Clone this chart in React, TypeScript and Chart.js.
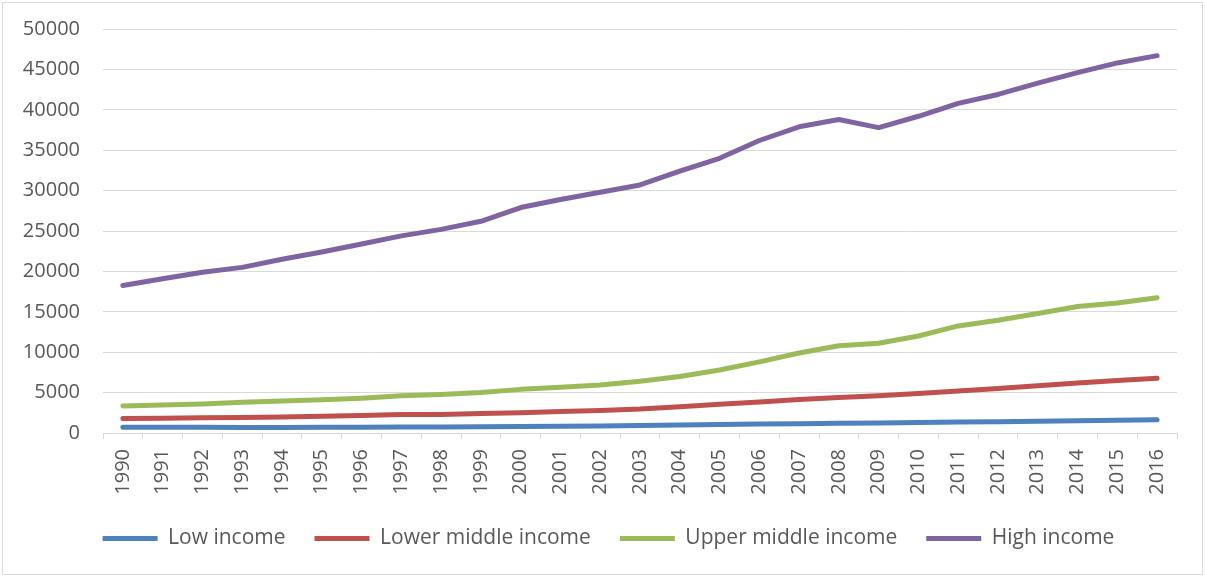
import React, { useEffect, useRef } from "react";
import { Chart, registerables } from "chart.js";

Chart.register(...registerables);

const years = [
  "1990","1991","1992","1993","1994","1995","1996","1997","1998","1999",
  "2000","2001","2002","2003","2004","2005","2006","2007","2008","2009",
  "2010","2011","2012","2013","2014","2015","2016",
];

const lowIncome = [
  720, 710, 700, 690, 690, 700, 720, 740, 750, 760,
  790, 820, 860, 920, 980, 1040, 1100, 1160, 1210, 1240,
  1300, 1350, 1400, 1460, 1520, 1580, 1640,
];

const lowerMiddleIncome = [
  1780, 1830, 1880, 1930, 1990, 2080, 2180, 2280, 2300, 2400,
  2520, 2660, 2780, 2960, 3250, 3550, 3850, 4150, 4400, 4600,
  4900, 5200, 5500, 5850, 6200, 6500, 6780,
];

const upperMiddleIncome = [
  3350, 3480, 3600, 3800, 3950, 4100, 4300, 4600, 4750, 5000,
  5400, 5650, 5950, 6400, 7000, 7800, 8800, 9900, 10800, 11100,
  12000, 13250, 13950, 14800, 15650, 16100, 16750,
];

const highIncome = [
  18250, 19100, 19900, 20500, 21500, 22400, 23400, 24400, 25200, 26200,
  27900, 28900, 29800, 30700, 32400, 34000, 36200, 37900, 38800, 37800,
  39200, 40800, 41900, 43300, 44600, 45800, 46700,
];

const seriesNames = ["Low income", "Lower middle income", "Upper middle income", "High income"];
const seriesColors = ["#4F81BD", "#C0504D", "#9BBB59", "#8064A2"];

const FONT = "'Open Sans', 'Noto Sans', sans-serif";
const TEXT = "#595959";
const GRID = "#d9d9d9";
const SHIFT = 6;
const CANVAS_H = 576 + SHIFT;

const borderPlugin = {
  id: "outerBorder",
  beforeDraw(chart: any) {
    const ctx = chart.ctx;
    ctx.save();
    ctx.fillStyle = "#ffffff";
    ctx.fillRect(0, 0, chart.width, chart.height);
    ctx.strokeStyle = GRID;
    ctx.lineWidth = 1;
    ctx.strokeRect(2.5, 2.5 + SHIFT, chart.width - 5, 572);
    ctx.restore();
  },
  afterLayout(chart: any) {
    const lg = chart.legend;
    if (lg) {
      lg.left += 10;
      lg.right += 10;
    }
  },
};

export default function App() {
  const ref = useRef<HTMLCanvasElement | null>(null);

  useEffect(() => {
    document.body.style.margin = "0";
    document.body.style.overflow = "hidden";
    const canvas = ref.current;
    if (!canvas) return;
    const allData = [lowIncome, lowerMiddleIncome, upperMiddleIncome, highIncome];
    const chart = new Chart(canvas, {
      type: "line",
      data: {
        labels: years,
        datasets: allData.map((d, i) => ({
          label: seriesNames[i],
          data: d,
          borderColor: seriesColors[i],
          backgroundColor: seriesColors[i],
          borderWidth: 5,
          borderCapStyle: "round" as const,
          borderJoinStyle: "round" as const,
          pointRadius: 0,
          pointHoverRadius: 0,
          tension: 0,
          fill: false,
        })),
      },
      options: {
        animation: false,
        responsive: false,
        maintainAspectRatio: false,
        layout: { padding: { left: 20, right: 28, top: 10, bottom: 17 } },
        plugins: {
          tooltip: { enabled: false },
          legend: {
            position: "bottom",
            labels: {
              usePointStyle: true,
              pointStyle: "line",
              pointStyleWidth: 55,
              boxHeight: 21,
              padding: 29,
              color: TEXT,
              font: { family: FONT, size: 21 },
            },
          },
        },
        scales: {
          x: {
            offset: true,
            grid: {
              offset: true,
              drawOnChartArea: false,
              drawTicks: true,
              tickLength: 6,
              color: GRID,
            },
            border: { display: true, color: GRID },
            ticks: {
              color: TEXT,
              font: { family: FONT, size: 20 },
              minRotation: 90,
              maxRotation: 90,
              autoSkip: false,
              padding: 10,
            },
            afterFit: (scale: any) => {
              scale.height = 66;
            },
          },
          y: {
            min: 0,
            max: 50000,
            grid: { color: GRID, drawTicks: false },
            border: { display: false },
            ticks: {
              stepSize: 5000,
              color: TEXT,
              padding: 23,
              font: { family: FONT, size: 20 },
              callback: (v: any) => String(v),
            },
            afterFit: (scale: any) => {
              scale.width = 83;
            },
          },
        },
      },
      plugins: [borderPlugin],
    });
    return () => chart.destroy();
  }, []);

  return (
    <div style={{ width: 1205, height: 576, overflow: "hidden", position: "relative" }}>
      <canvas
        ref={ref}
        width={1205}
        height={CANVAS_H}
        style={{ display: "block", position: "absolute", left: 0, top: -SHIFT, width: 1205, height: CANVAS_H }}
      />
    </div>
  );
}
